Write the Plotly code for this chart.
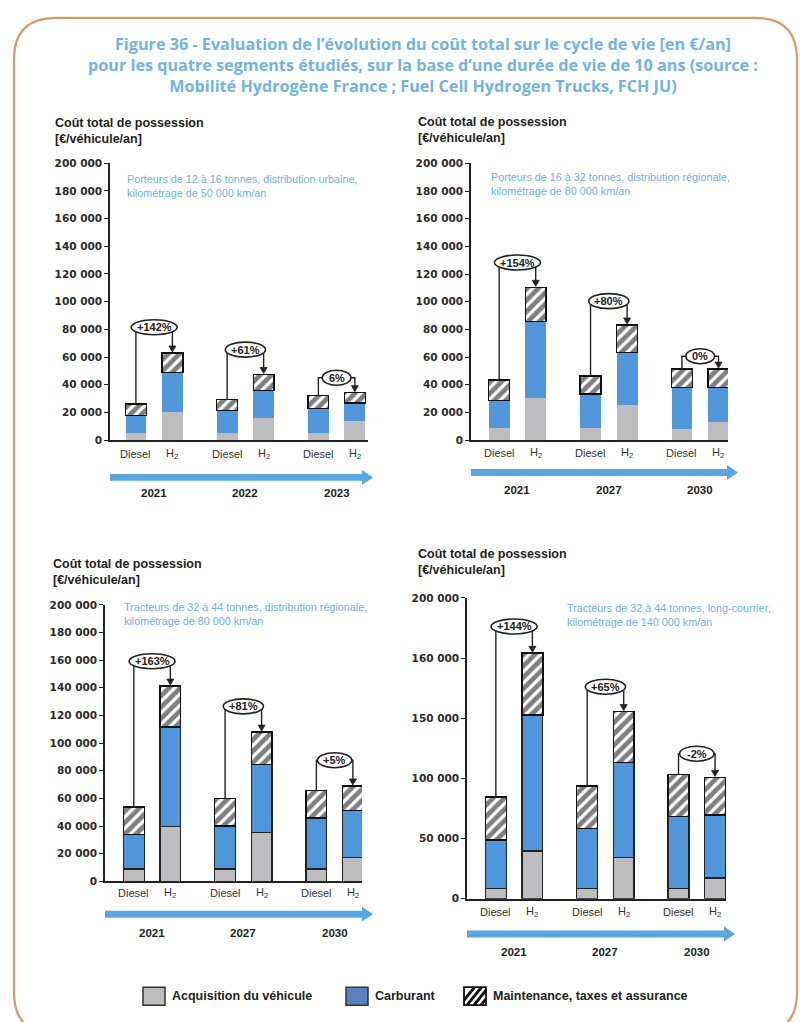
import plotly.graph_objects as go

W, H = 800, 1022

# ---- data -------------------------------------------------------------
# bar order in each panel: Diesel, H2 for each year
categories = ["Diesel", "H<sub>2</sub>"]

p1_years = ["2021", "2022", "2023"]
p1_acquisition = [5500, 20000, 5500, 15700, 5500, 13800]
p1_fuel = [12500, 29000, 15900, 20000, 17400, 13100]
p1_maintenance = [8000, 14000, 7900, 11800, 9500, 7400]
p1_changes = ["+142%", "+61%", "6%"]
p1_segment = "Porteurs de 12 à 16 tonnes, distribution urbaine,<br>kilométrage de 50 000 km/an"

p2_years = ["2021", "2027", "2030"]
p2_acquisition = [8500, 30500, 8500, 25200, 8300, 13300]
p2_fuel = [20100, 55200, 24800, 38100, 29800, 24800]
p2_maintenance = [14900, 24800, 13200, 20000, 13300, 13300]
p2_changes = ["+154%", "+80%", "0%"]
p2_segment = "Porteurs de 16 à 32 tonnes, distribution régionale,<br>kilométrage de 80 000 km/an"

p3_years = ["2021", "2027", "2030"]
p3_acquisition = [8800, 39900, 8800, 35100, 8800, 17200]
p3_fuel = [25100, 71600, 31100, 49400, 37000, 34100]
p3_maintenance = [19800, 29800, 20200, 23500, 19800, 17700]
p3_changes = ["+163%", "+81%", "+5%"]
p3_segment = "Tracteurs de 32 à 44 tonnes, distribution régionale,<br>kilométrage de 80 000 km/an"

p4_years = ["2021", "2027", "2030"]
p4_acquisition = [8200, 39700, 8200, 34500, 8200, 17300]
p4_fuel = [40600, 112900, 50200, 78700, 60300, 52300]
p4_maintenance = [35600, 51500, 35300, 42400, 34800, 31200]
p4_changes = ["+144%", "+65%", "-2%"]
p4_segment = "Tracteurs de 32 à 44 tonnes, long-courrier,<br>kilométrage de 140 000 km/an"

y_ticks_std = [0, 20000, 40000, 60000, 80000, 100000, 120000, 140000, 160000, 180000, 200000]
y_ticks_p4 = [0, 50000, 100000, 150000, 200000, 250000]
y_ticktext_p4 = ["0", "50 000", "100 000", "150 000", "160 000", "200 000"]

series_names = ["Acquisition du véhicule", "Carburant", "Maintenance, taxes et assurance"]

# ---- style ------------------------------------------------------------
FONT = "Arial, Liberation Sans, sans-serif"
WIDE = "DejaVu Sans, sans-serif"
GREY = "#bdbdbf"
BLUE = "#4f96da"
ARROW_BLUE = "#5aa6e0"
TITLE_BLUE = "#72b3e3"
DARK = "#222222"


def fmt(v):
    return f"{v:,}".replace(",", " ")


panels = [
    dict(years=p1_years, acq=p1_acquisition, fuel=p1_fuel, maint=p1_maintenance,
         changes=p1_changes, segment=p1_segment,
         xpx=(110, 368), xrange=(-0.71, 6.36), ypx=(159, 439.3), yrange=(0, 200000),
         tickvals=y_ticks_std, ticktext=[fmt(v) for v in y_ticks_std],
         cat_y=453, arrow_y=477, arrow_tip=373, year_y=493,
         title_xy=(53, 109), seg_xy=(125, 167), outline=False, gaps=(26, 25, 15)),
    dict(years=p2_years, acq=p2_acquisition, fuel=p2_fuel, maint=p2_maintenance,
         changes=p2_changes, segment=p2_segment,
         xpx=(471, 728), xrange=(-0.77, 6.26), ypx=(159.3, 439.3), yrange=(0, 200000),
         tickvals=y_ticks_std, ticktext=[fmt(v) for v in y_ticks_std],
         cat_y=452, arrow_y=472, arrow_tip=738, year_y=490,
         title_xy=(416, 108), seg_xy=(489, 165), outline=False, gaps=(25, 24, 13)),
    dict(years=p3_years, acq=p3_acquisition, fuel=p3_fuel, maint=p3_maintenance,
         changes=p3_changes, segment=p3_segment,
         xpx=(105, 362), xrange=(-0.79, 6.25), ypx=(606, 885.7), yrange=(0, 200000),
         tickvals=y_ticks_std, ticktext=[fmt(v) for v in y_ticks_std],
         cat_y=898, arrow_y=919, arrow_tip=373, year_y=938,
         title_xy=(51, 556), seg_xy=(122, 600), outline=True, gaps=(25, 26, 26)),
    dict(years=p4_years, acq=p4_acquisition, fuel=p4_fuel, maint=p4_maintenance,
         changes=p4_changes, segment=p4_segment,
         xpx=(467, 726), xrange=(-0.79, 6.3), ypx=(599, 903.3), yrange=(0, 250000),
         tickvals=y_ticks_p4, ticktext=y_ticktext_p4,
         cat_y=917, arrow_y=939, arrow_tip=735, year_y=957,
         title_xy=(416, 545), seg_xy=(565, 601), outline=True, gaps=(27, 25, 21)),
]


def px(x):
    return x / W


def py(y):
    return 1 - y / H


fig = go.Figure()
shapes = []
annotations = []

for i, p in enumerate(panels):
    n = i + 1
    xname = "x" if n == 1 else f"x{n}"
    yname = "y" if n == 1 else f"y{n}"
    xkey = "xaxis" if n == 1 else f"xaxis{n}"
    ykey = "yaxis" if n == 1 else f"yaxis{n}"

    positions = []
    for g in range(len(p["years"])):
        positions += [2.5 * g, 2.5 * g + 1]

    line_w = 1.3 if p["outline"] else 0
    for vals, name in zip((p["acq"], p["fuel"]), series_names[:2]):
        color = GREY if name == series_names[0] else BLUE
        fig.add_trace(go.Bar(
            x=positions, y=vals, name=name, xaxis=xname, yaxis=yname,
            width=0.57, marker=dict(color=color, line=dict(color=DARK, width=line_w)),
            showlegend=False, hoverinfo="y"))
    fig.add_trace(go.Bar(
        x=positions, y=p["maint"], name=series_names[2], xaxis=xname, yaxis=yname,
        width=0.57,
        marker=dict(color="white", line=dict(color="#111111", width=1.4),
                    pattern=dict(shape="/", fgcolor="#000000", bgcolor="white",
                                 size=8, solidity=0.6)),
        showlegend=False, hoverinfo="y"))

    x0px, x1px = p["xpx"]
    ytop, ybot = p["ypx"]
    fig.update_layout({
        xkey: dict(domain=[px(x0px), px(x1px)], range=list(p["xrange"]), anchor=yname,
                   showticklabels=False, ticks="", showline=True, linecolor=DARK,
                   linewidth=1.6, showgrid=False, zeroline=False, fixedrange=True),
        ykey: dict(domain=[py(ybot), py(ytop)], range=list(p["yrange"]), anchor=xname,
                   tickvals=p["tickvals"], ticktext=p["ticktext"],
                   ticks="outside", ticklen=4, tickcolor=DARK, tickwidth=1.3,
                   showline=True, linecolor=DARK, linewidth=1.6,
                   showgrid=False, zeroline=False,
                   tickfont=dict(family=WIDE, size=10.5, color="#2b2b2b", weight="bold"),
                   fixedrange=True),
    })

    # data units per pixel on each axis, and data -> page position helpers
    per_px = (p["yrange"][1] - p["yrange"][0]) / (ybot - ytop)
    per_px_x = (p["xrange"][1] - p["xrange"][0]) / (x1px - x0px)

    def to_px_x(v, p=p, per_px_x=per_px_x):
        return p["xpx"][0] + (v - p["xrange"][0]) / per_px_x

    def to_px_y(v, p=p, per_px=per_px):
        return p["ypx"][1] - (v - p["yrange"][0]) / per_px

    # category labels under each bar
    for k, xpos in enumerate(positions):
        annotations.append(dict(x=px(to_px_x(xpos)), y=py(p["cat_y"]), xref="paper", yref="paper",
                                xanchor="center", yanchor="middle",
                                text=categories[k % 2], showarrow=False,
                                font=dict(family=FONT, size=11, color="#333333")))

    # comparison connectors with percentage bubbles
    for g, label in enumerate(p["changes"]):
        d, h = 2 * g, 2 * g + 1
        dtop = p["acq"][d] + p["fuel"][d] + p["maint"][d]
        htop = p["acq"][h] + p["fuel"][h] + p["maint"][h]
        dx, hx = positions[d], positions[h]
        yc = max(dtop, htop) + p["gaps"][g] * per_px
        head_base = htop + 7 * per_px
        shapes.append(dict(type="path", xref=xname, yref=yname,
                           path=f"M {dx},{dtop} L {dx},{yc} L {hx},{yc} L {hx},{head_base}",
                           line=dict(color=DARK, width=1.4), layer="above"))
        shapes.append(dict(type="path", xref=xname, yref=yname,
                           path=(f"M {hx - 3.5 * per_px_x},{head_base} L {hx + 3.5 * per_px_x},{head_base} "
                                 f"L {hx},{htop + 1 * per_px} Z"),
                           fillcolor=DARK, line=dict(color=DARK, width=0.8), layer="above"))
        wpx = 17 + 5.8 * len(label)
        shapes.append(dict(type="circle", xref=xname, yref=yname,
                           xsizemode="pixel", ysizemode="pixel",
                           xanchor=(dx + hx) / 2, yanchor=yc,
                           x0=-wpx / 2, x1=wpx / 2, y0=-7.5, y1=7.5,
                           fillcolor="white", line=dict(color=DARK, width=1.6), layer="above"))
        annotations.append(dict(x=px(to_px_x((dx + hx) / 2)), y=py(to_px_y(yc)),
                                xref="paper", yref="paper", xanchor="center", yanchor="middle",
                                text=f"<b>{label}</b>", showarrow=False,
                                font=dict(family=FONT, size=11, color=DARK)))

    # timeline arrow under the groups
    ay = p["arrow_y"]
    tip = p["arrow_tip"]
    body_end = tip - 11
    shapes.append(dict(
        type="path", xref="paper", yref="paper", fillcolor=ARROW_BLUE, line=dict(width=0),
        path=(f"M {px(x0px)},{py(ay - 3.5)} L {px(body_end)},{py(ay - 3.5)} "
              f"L {px(body_end)},{py(ay - 7.5)} L {px(tip)},{py(ay)} "
              f"L {px(body_end)},{py(ay + 7.5)} L {px(body_end)},{py(ay + 3.5)} "
              f"L {px(x0px)},{py(ay + 3.5)} Z")))
    for g, yr in enumerate(p["years"]):
        annotations.append(dict(x=px(to_px_x(2.5 * g + 0.5)), y=py(p["year_y"]),
                                xref="paper", yref="paper", xanchor="center", yanchor="middle",
                                text=f"<b>{yr}</b>", showarrow=False,
                                font=dict(family=FONT, size=11.5, color=DARK)))

    # axis title and segment description
    tx, ty = p["title_xy"]
    annotations.append(dict(x=px(tx), y=py(ty), xref="paper", yref="paper",
                            xanchor="left", yanchor="top", align="left", showarrow=False,
                            text="<b>Coût total de possession<br>[€/véhicule/an]</b>",
                            font=dict(family=FONT, size=12.5, color="#1e1e1e")))
    sx, sy = p["seg_xy"]
    annotations.append(dict(x=px(sx), y=py(sy), xref="paper", yref="paper",
                            xanchor="left", yanchor="top", align="left", showarrow=False,
                            text=p["segment"],
                            font=dict(family=FONT, size=10.8, color="#70b1e3")))

# ---- frame ------------------------------------------------------------
L, T, R, B, r = 14, 12, 797, 1040, 42
shapes.insert(0, dict(
    type="path", xref="paper", yref="paper", layer="below",
    line=dict(color="#d99a63", width=2.2), fillcolor="white",
    path=(f"M {px(L + r)},{py(T)} L {px(R - r)},{py(T)} Q {px(R)},{py(T)} {px(R)},{py(T + r)} "
          f"L {px(R)},{py(B - r)} Q {px(R)},{py(B)} {px(R - r)},{py(B)} "
          f"L {px(L + r)},{py(B)} Q {px(L)},{py(B)} {px(L)},{py(B - r)} "
          f"L {px(L)},{py(T + r)} Q {px(L)},{py(T)} {px(L + r)},{py(T)} Z")))

# ---- main title -------------------------------------------------------
annotations.append(dict(
    x=px(423), y=py(25), xref="paper", yref="paper", showarrow=False, align="center",
    xanchor="center", yanchor="top",
    text=("<b>Figure 36 - Evaluation de l’évolution du coût total sur le cycle de vie [en €/an]<br>"
          "pour les quatre segments étudiés, sur la base d’une durée de vie de 10 ans (source :<br>"
          "Mobilité Hydrogène France ; Fuel Cell Hydrogen Trucks, FCH JU)</b>"),
    font=dict(family="Open Sans, sans-serif", size=16.2, color=TITLE_BLUE)))

# ---- legend -----------------------------------------------------------
leg_y = 1002
legend_items = [(143, GREY, series_names[0]), (346, "#5b7fbf", series_names[1]),
                (464, None, series_names[2])]
for lx, color, name in legend_items:
    bw, bh = 22, 18
    if color is not None:
        shapes.append(dict(type="rect", xref="paper", yref="paper",
                           x0=px(lx), x1=px(lx + bw), y0=py(leg_y + bh / 2), y1=py(leg_y - bh / 2),
                           fillcolor=color, line=dict(color="#333333", width=1.5)))
    else:
        shapes.append(dict(type="rect", xref="paper", yref="paper",
                           x0=px(lx), x1=px(lx + bw), y0=py(leg_y + bh / 2), y1=py(leg_y - bh / 2),
                           fillcolor="white", line=dict(color="#111111", width=1.5)))
        stripes = ""
        for k in range(4):
            sx0 = lx - 4 + k * 7
            stripes += f"M {px(sx0)},{py(leg_y + bh / 2)} L {px(sx0 + bh * 0.8)},{py(leg_y - bh / 2)} "
        shapes.append(dict(type="path", xref="paper", yref="paper", path=stripes,
                           line=dict(color="#111111", width=3)))
        # trim stripe ends that run past the box, then redraw its outline
        shapes.append(dict(type="rect", xref="paper", yref="paper",
                           x0=px(lx - 8), x1=px(lx - 0.8), y0=py(leg_y + bh / 2 + 1),
                           y1=py(leg_y - bh / 2 - 1), fillcolor="white", line=dict(width=0)))
        shapes.append(dict(type="rect", xref="paper", yref="paper",
                           x0=px(lx + bw + 0.8), x1=px(lx + bw + 12), y0=py(leg_y + bh / 2 + 1),
                           y1=py(leg_y - bh / 2 - 1), fillcolor="white", line=dict(width=0)))
        shapes.append(dict(type="rect", xref="paper", yref="paper",
                           x0=px(lx), x1=px(lx + bw), y0=py(leg_y + bh / 2), y1=py(leg_y - bh / 2),
                           fillcolor="rgba(0,0,0,0)", line=dict(color="#111111", width=1.5)))
    annotations.append(dict(x=px(lx + bw + 5), y=py(leg_y), xref="paper", yref="paper",
                            xanchor="left", yanchor="middle", showarrow=False,
                            text=f"<b>{name}</b>",
                            font=dict(family=FONT, size=12.5, color="#222222")))

fig.update_layout(
    width=W, height=H, margin=dict(l=0, r=0, t=0, b=0),
    paper_bgcolor="white", plot_bgcolor="rgba(0,0,0,0)",
    barmode="stack", showlegend=False,
    shapes=shapes, annotations=annotations,
)

fig.write_html("out.html")
